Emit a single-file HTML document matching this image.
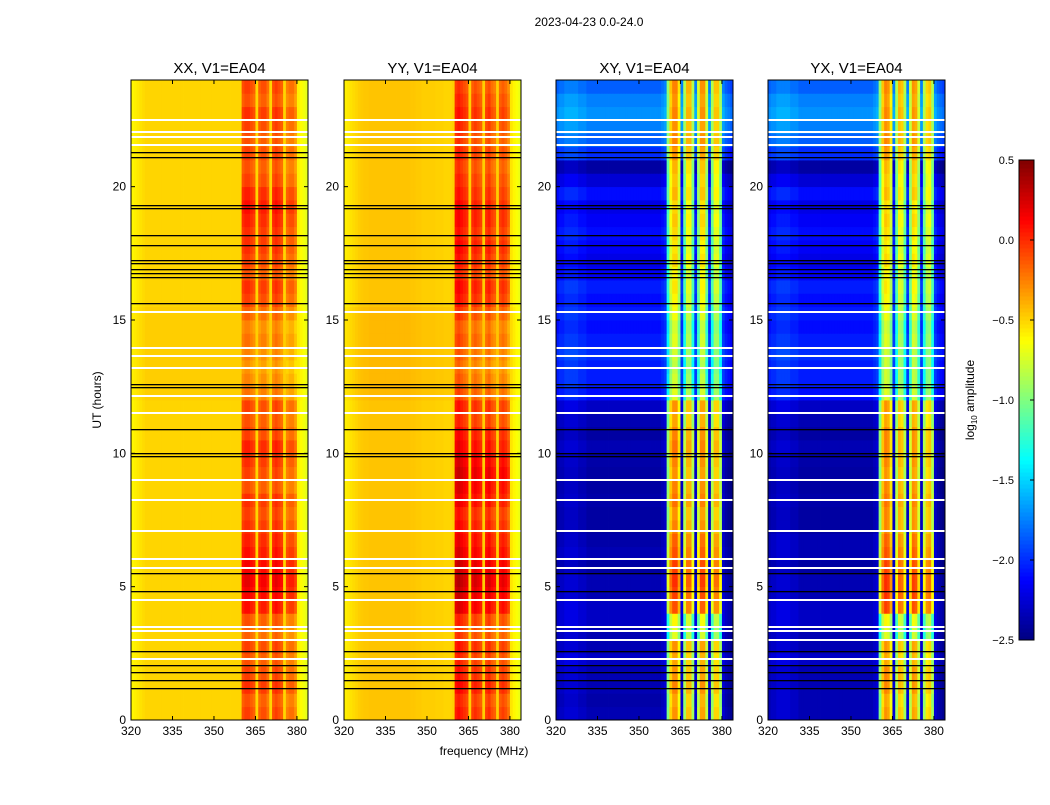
<!DOCTYPE html>
<html><head><meta charset="utf-8"><style>
body{margin:0;background:#fff;}
svg text{font-family:"Liberation Sans",sans-serif;fill:#000;}
</style></head><body>
<svg id="fig" width="1050" height="800" xmlns="http://www.w3.org/2000/svg">
<text x="589" y="26" font-size="12" text-anchor="middle">2023-04-23 0.0-24.0</text>
<text x="484" y="755" font-size="12" text-anchor="middle">frequency (MHz)</text>
<text x="101" y="400" font-size="12" text-anchor="middle" transform="rotate(-90 101 400)">UT (hours)</text>
<text x="974" y="400" font-size="12" text-anchor="middle" transform="rotate(-90 974 400)">log<tspan font-size="8" dy="3">10</tspan><tspan dy="-3"> amplitude</tspan></text>
</svg>
<script>
// ---- data ----
const panelTitles = ["XX, V1=EA04","YY, V1=EA04","XY, V1=EA04","YX, V1=EA04"];
const freqStart = 320, nChan = 64, chanWidth = 1;
const nRows = 48, rowHours = 0.5;
const xTicks = [320,335,350,365,380];
const yTicks = [0,5,10,15,20];
const cbTicks = [0.5,0.0,-0.5,-1.0,-1.5,-2.0,-2.5];
const cbLabels = ["0.5","0.0","\u22120.5","\u22121.0","\u22121.5","\u22122.0","\u22122.5"];
const bandMask = [0,0,0,0,0,0,0,0,0,0, 0,0,0,0,0,0,0,0,0,0, 0,0,0,0,0,0,0,0,0,0, 0,0,0,0,0,0,0,0,0,0, 1,1,1,1,1,0,1,1,1,1, 0,1,1,1,1,0,1,1,1,1, 0,0,0,0];
const xxCols = [-0.6,-0.58,-0.56,-0.54,-0.52,-0.5,-0.5,-0.5,-0.5,-0.5, -0.5,-0.5,-0.5,-0.5,-0.5,-0.5,-0.5,-0.5,-0.5,-0.5, -0.5,-0.5,-0.5,-0.5,-0.5,-0.5,-0.5,-0.5,-0.5,-0.5, -0.5,-0.5,-0.5,-0.5,-0.5,-0.5,-0.5,-0.5,-0.5,-0.5, -0.1,-0.05,-0.05,-0.1,-0.15,-0.5,-0.15,-0.1,-0.1,-0.2, -0.5,-0.1,-0.05,-0.1,-0.15,-0.5,-0.25,-0.2,-0.2,-0.3, -0.58,-0.62,-0.66,-0.7];
const yyCols = [-0.58,-0.56,-0.54,-0.52,-0.5,-0.48,-0.47,-0.46,-0.46,-0.45, -0.45,-0.45,-0.45,-0.45,-0.45,-0.45,-0.45,-0.45,-0.45,-0.45, -0.45,-0.45,-0.45,-0.45,-0.46,-0.46,-0.47,-0.47,-0.48,-0.48, -0.48,-0.48,-0.48,-0.49,-0.49,-0.49,-0.5,-0.5,-0.5,-0.48, 0.0,0.05,0.0,-0.05,-0.1,-0.48,-0.1,-0.05,-0.1,-0.15, -0.48,-0.1,-0.05,-0.15,-0.2,-0.48,-0.15,-0.1,-0.15,-0.25, -0.55,-0.6,-0.64,-0.68];
const xyCols = [-2.3,-2.25,-2.25,-2.2,-2.2,-2.2,-2.2,-2.2,-2.25,-2.25, -2.25,-2.3,-2.3,-2.3,-2.3,-2.3,-2.3,-2.3,-2.3,-2.3, -2.3,-2.3,-2.3,-2.3,-2.3,-2.3,-2.3,-2.3,-2.3,-2.3, -2.3,-2.3,-2.3,-2.3,-2.3,-2.3,-2.3,-2.3,-2.25,-2.2, -1.0,-0.5,-0.3,-0.3,-0.6,-2.2,-0.9,-0.45,-0.45,-0.9, -2.2,-0.8,-0.35,-0.35,-0.8,-2.2,-0.9,-0.5,-0.5,-0.9, -2.2,-2.3,-2.35,-2.4];
const yxCols = [-2.3,-2.25,-2.25,-2.2,-2.2,-2.2,-2.2,-2.2,-2.25,-2.25, -2.25,-2.3,-2.3,-2.3,-2.3,-2.3,-2.3,-2.3,-2.3,-2.3, -2.3,-2.3,-2.3,-2.3,-2.3,-2.3,-2.3,-2.3,-2.3,-2.3, -2.3,-2.3,-2.3,-2.3,-2.3,-2.3,-2.3,-2.3,-2.25,-2.2, -1.0,-0.5,-0.3,-0.35,-0.6,-2.2,-0.9,-0.45,-0.5,-0.9, -2.2,-0.8,-0.35,-0.4,-0.8,-2.2,-0.9,-0.55,-0.5,-0.9, -2.2,-2.3,-2.35,-2.4];
const xxBand = [0,-0.05,0.05,0,-0.05,0, -0.1,-0.05, 0.15,0.2,0.25,0.2,0.15,0.1, 0.05,0,0.05,-0.05,0,0.05,0.1,0,-0.05,0, -0.15,-0.2,-0.25,-0.2,-0.15,-0.2,-0.1, 0,0.05,-0.05,0,0.05, 0.05,0.1,0.15,0.1,0,-0.05, 0,-0.05,0,0.05,-0.05,0];
const yyBand = [0.05,0,0.1,0.05,0,0.05, -0.05,0, 0.2,0.25,0.3,0.25,0.2,0.15, 0.1,0.05,0.15,0.2,0.25,0.2,0.15,0.1,0,0.05, -0.1,-0.15,-0.2,-0.15,-0.1,-0.15,-0.05, 0.05,0.1,0,0.05,0.1, 0.05,0.1,0.1,0.05,0,-0.05, 0,-0.05,0,0.05,0,-0.05];
const xyBand = [0.0,-0.05,0.05,0.0,-0.05,0.0, -0.4,-0.3, 0.2,0.25,0.3,0.25,0.2,0.15, 0.05,0.0,0.1,0.05,0.0,0.05,0.1,0.05,-0.05,0.0, -0.4,-0.45,-0.5,-0.45,-0.4,-0.45,-0.35, -0.3,-0.25,-0.3,-0.2,-0.25, -0.2,-0.15,-0.2,-0.1,-0.15,-0.1, 0.0,0.05,0.0,0.05,0.0,0.05];
const yxBand = [0.0,-0.05,0.05,0.05,-0.05,0.0, -0.4,-0.3, 0.25,0.3,0.3,0.25,0.2,0.15, 0.05,0.05,0.1,0.05,0.0,0.05,0.05,0.05,-0.05,0.0, -0.4,-0.45,-0.45,-0.45,-0.4,-0.45,-0.35, -0.3,-0.25,-0.3,-0.2,-0.25, -0.2,-0.15,-0.2,-0.1,-0.15,-0.1, 0.0,0.05,0.0,0.05,0.0,0.05];
const xxBg = [0,0,0,0,0,0, 0,0, 0,0,0,0,0,0, 0,0,0,0,0,0,0,0,0,0, 0.02,0.02,0.02,0.02,0.02,0.02,0.02, 0,0,0,0,0, 0,0,0,0,0,0, 0,0,0,0,0,0];
const yyBg = [0,0,0,0,0,0, 0,0, 0,0,0,0,0,0, 0,0,0,0,0,0,0,0,0,0, 0.03,0.03,0.03,0.03,0.03,0.03,0.03, 0,0,0,0,0, 0,0,0,0,0,0, 0,0,0,0,0,0];
const xyBg = [-0.05,-0.08,-0.05,-0.05,0.0,-0.05, -0.05,0.0, 0.0,-0.05,-0.05,-0.1,-0.05,-0.08, -0.1,-0.1,-0.08,-0.1,-0.1,-0.08,-0.05,-0.1,-0.05,0.0, 0.2,0.25,0.25,0.3,0.25,0.2,0.25, 0.2,0.25,0.15,0.1,0.15, 0.2,0.15,0.1,0.2,0.05,-0.1, 0.3,0.45,0.55,0.6,0.55,0.45];
const yxBg = [-0.05,-0.05,-0.05,-0.05,0.0,-0.05, -0.05,0.0, 0.0,-0.05,-0.05,-0.1,-0.05,-0.05, -0.1,-0.1,-0.08,-0.1,-0.1,-0.08,-0.05,-0.1,-0.05,0.0, 0.2,0.25,0.25,0.3,0.25,0.2,0.25, 0.2,0.25,0.15,0.1,0.15, 0.2,0.15,0.1,0.2,0.05,-0.1, 0.3,0.45,0.55,0.6,0.55,0.45];
const blackFlags = [21.3,21.1,19.3,19.2,18.2,17.8,17.25,17.15,16.9,16.75,16.6,15.65,12.6,12.5,10.9,10.0,9.9,5.5,4.85,2.6,2.05,1.8,1.5,1.2];
const whiteFlags = [22.5,22.05,21.85,21.55,15.3,13.95,13.65,13.2,12.15,11.5,9.0,8.25,7.1,6.05,5.7,4.5,3.5,3.35,3.0,2.3];
// ---- drawing ----
const NS="http://www.w3.org/2000/svg";
const svg=document.getElementById('fig');
const panelX=[131,344,556,768], PW=177, PT=80, PB=720;
const colsAll=[xxCols,yyCols,xyCols,yxCols], bandAll=[xxBand,yyBand,xyBand,yxBand], bgAll=[xxBg,yyBg,xyBg,yxBg];
const vmin=-2.5, vmax=0.5;
function jet(v){let t=(v-vmin)/(vmax-vmin);t=Math.max(0,Math.min(1,t));
 const c=x=>Math.round(255*Math.max(0,Math.min(1,x)));
 return `rgb(${c(1.5-Math.abs(4*t-3))},${c(1.5-Math.abs(4*t-2))},${c(1.5-Math.abs(4*t-1))})`;}
function mk(tag,attrs,parent){const e=document.createElementNS(NS,tag);for(const k in attrs)e.setAttribute(k,attrs[k]);(parent||svg).appendChild(e);return e;}
panelX.forEach((x0,p)=>{
 const xs=f=>x0+(f-freqStart)*PW/(nChan*chanWidth);
 const ys=h=>PB-h*(PB-PT)/24;
 const g=mk('g',{});
 
 
 for(let r=0;r<nRows;r++){for(let c=0;c<nChan;c++){
  const v=colsAll[p][c]+(bandMask[c]?bandAll[p][r]:bgAll[p][r]);
  const f=freqStart+c*chanWidth, h=r*rowHours;
  const x1=xs(f),x2=xs(f+chanWidth),y1=ys(h+rowHours),y2=ys(h);
  const rc=mk('rect',{x:x1.toFixed(2),y:y1.toFixed(2),width:(x2-x1+0.4).toFixed(2),height:(y2-y1+0.4).toFixed(2),fill:jet(v)},g);
  
  
 }}
 blackFlags.forEach(h=>{const l=mk('rect',{x:x0,y:Math.round(ys(h)),width:PW,height:1.3,fill:'#000'});
  
  });
 whiteFlags.forEach(h=>{const l=mk('rect',{x:x0,y:Math.round(ys(h))-1,width:PW,height:2,fill:'#fff'});
  
  });
 const fr=mk('rect',{x:x0,y:PT,width:PW,height:PB-PT,fill:'none',stroke:'#000','stroke-width':1});
 
 
 const t=mk('text',{x:x0+PW/2,y:73,'font-size':15,'text-anchor':'middle'});t.textContent=panelTitles[p];
 
 
 xTicks.forEach(f=>{const x=xs(f);
  mk('line',{x1:x,x2:x,y1:PB,y2:PB-4,stroke:'#000'});mk('line',{x1:x,x2:x,y1:PT,y2:PT+4,stroke:'#000'});
  const tl=mk('text',{x:x,y:PB+15,'font-size':12,'text-anchor':'middle'});tl.textContent=f;
  
  });
 yTicks.forEach(h=>{const y=ys(h);
  mk('line',{x1:x0,x2:x0+4,y1:y,y2:y,stroke:'#000'});mk('line',{x1:x0+PW,x2:x0+PW-4,y1:y,y2:y,stroke:'#000'});
  const tl=mk('text',{x:x0-5,y:y+4,'font-size':12,'text-anchor':'end'});tl.textContent=h;
  
  });
});
// colorbar
const cbX=1019,cbW=15,cbT=160,cbB=640;
const cbs=v=>cbB-(v-vmin)*(cbB-cbT)/(vmax-vmin);
const cbg=mk('g',{});


for(let i=0;i<120;i++){const v0=vmin+i*(vmax-vmin)/120,v1=vmin+(i+1)*(vmax-vmin)/120;
 mk('rect',{x:cbX,y:cbs(v1),width:cbW,height:cbs(v0)-cbs(v1)+0.5,fill:jet((v0+v1)/2)},cbg);}
mk('rect',{x:cbX,y:cbT,width:cbW,height:cbB-cbT,fill:'none',stroke:'#000'},cbg);
cbTicks.forEach((v,i)=>{const y=cbs(v);
 mk('line',{x1:cbX+cbW,x2:cbX+cbW-4,y1:y,y2:y,stroke:'#000'},cbg);
 const tl=mk('text',{x:1014,y:y+4,'font-size':11,'text-anchor':'end'},cbg);tl.textContent=cbLabels[i];
 
 });
</script>
</body></html>
